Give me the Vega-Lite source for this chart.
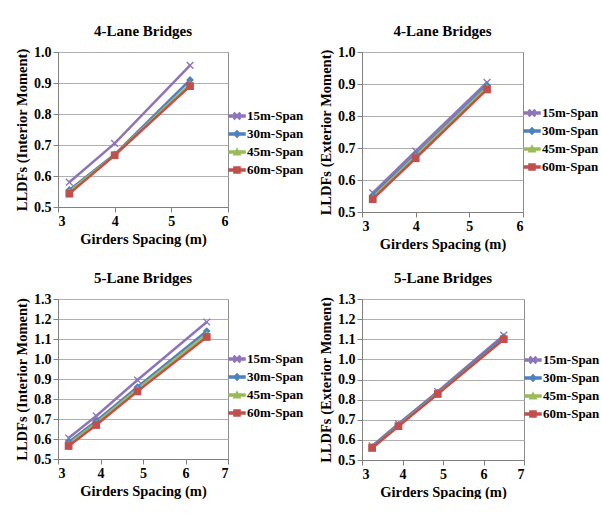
{
  "$schema": "https://vega.github.io/schema/vega-lite/v6.json",
  "padding": {"left": 13, "top": 23, "right": 5, "bottom": 0},
  "background": "white",
  "spacing": 19,
  "config": {
    "font": "Liberation Serif",
    "view": {"stroke": "#8c8c8c", "strokeWidth": 1},
    "axis": {
      "labelFont": "Liberation Serif", "labelFontWeight": "bold", "labelFontSize": 14, "labelColor": "#000",
      "titleFont": "Liberation Serif", "titleFontWeight": "bold", "titleFontSize": 14.5, "titleColor": "#000",
      "domainColor": "#808080", "tickColor": "#808080", "tickSize": 5,
      "gridColor": "#b0b0b0", "gridWidth": 1
    },
    "title": {"font": "Liberation Serif", "fontWeight": "bold", "fontSize": 15, "color": "#000", "offset": 6},
    "legend": {"labelFont": "Liberation Serif", "labelFontWeight": "bold", "labelFontSize": 13, "labelColor": "#000"}
  },
  "data": {"values": [
    {"panel": "A", "x": 3.2, "y": 0.58, "series": "15m-Span"},
    {"panel": "A", "x": 4.0, "y": 0.705, "series": "15m-Span"},
    {"panel": "A", "x": 5.33, "y": 0.957, "series": "15m-Span"},
    {"panel": "A", "x": 3.2, "y": 0.555, "series": "30m-Span"},
    {"panel": "A", "x": 4.0, "y": 0.67, "series": "30m-Span"},
    {"panel": "A", "x": 5.33, "y": 0.91, "series": "30m-Span"},
    {"panel": "A", "x": 3.2, "y": 0.55, "series": "45m-Span"},
    {"panel": "A", "x": 4.0, "y": 0.668, "series": "45m-Span"},
    {"panel": "A", "x": 5.33, "y": 0.897, "series": "45m-Span"},
    {"panel": "A", "x": 3.2, "y": 0.543, "series": "60m-Span"},
    {"panel": "A", "x": 4.0, "y": 0.667, "series": "60m-Span"},
    {"panel": "A", "x": 5.33, "y": 0.89, "series": "60m-Span"},

    {"panel": "B", "x": 3.2, "y": 0.56, "series": "15m-Span"},
    {"panel": "B", "x": 4.0, "y": 0.69, "series": "15m-Span"},
    {"panel": "B", "x": 5.33, "y": 0.905, "series": "15m-Span"},
    {"panel": "B", "x": 3.2, "y": 0.552, "series": "30m-Span"},
    {"panel": "B", "x": 4.0, "y": 0.68, "series": "30m-Span"},
    {"panel": "B", "x": 5.33, "y": 0.896, "series": "30m-Span"},
    {"panel": "B", "x": 3.2, "y": 0.546, "series": "45m-Span"},
    {"panel": "B", "x": 4.0, "y": 0.675, "series": "45m-Span"},
    {"panel": "B", "x": 5.33, "y": 0.89, "series": "45m-Span"},
    {"panel": "B", "x": 3.2, "y": 0.54, "series": "60m-Span"},
    {"panel": "B", "x": 4.0, "y": 0.668, "series": "60m-Span"},
    {"panel": "B", "x": 5.33, "y": 0.883, "series": "60m-Span"},

    {"panel": "C", "x": 3.25, "y": 0.605, "series": "15m-Span"},
    {"panel": "C", "x": 3.9, "y": 0.715, "series": "15m-Span"},
    {"panel": "C", "x": 4.87, "y": 0.895, "series": "15m-Span"},
    {"panel": "C", "x": 6.5, "y": 1.185, "series": "15m-Span"},
    {"panel": "C", "x": 3.25, "y": 0.585, "series": "30m-Span"},
    {"panel": "C", "x": 3.9, "y": 0.69, "series": "30m-Span"},
    {"panel": "C", "x": 4.87, "y": 0.86, "series": "30m-Span"},
    {"panel": "C", "x": 6.5, "y": 1.14, "series": "30m-Span"},
    {"panel": "C", "x": 3.25, "y": 0.575, "series": "45m-Span"},
    {"panel": "C", "x": 3.9, "y": 0.68, "series": "45m-Span"},
    {"panel": "C", "x": 4.87, "y": 0.85, "series": "45m-Span"},
    {"panel": "C", "x": 6.5, "y": 1.125, "series": "45m-Span"},
    {"panel": "C", "x": 3.25, "y": 0.565, "series": "60m-Span"},
    {"panel": "C", "x": 3.9, "y": 0.67, "series": "60m-Span"},
    {"panel": "C", "x": 4.87, "y": 0.838, "series": "60m-Span"},
    {"panel": "C", "x": 6.5, "y": 1.11, "series": "60m-Span"},

    {"panel": "D", "x": 3.25, "y": 0.57, "series": "15m-Span"},
    {"panel": "D", "x": 3.9, "y": 0.68, "series": "15m-Span"},
    {"panel": "D", "x": 4.87, "y": 0.84, "series": "15m-Span"},
    {"panel": "D", "x": 6.5, "y": 1.12, "series": "15m-Span"},
    {"panel": "D", "x": 3.25, "y": 0.565, "series": "30m-Span"},
    {"panel": "D", "x": 3.9, "y": 0.675, "series": "30m-Span"},
    {"panel": "D", "x": 4.87, "y": 0.835, "series": "30m-Span"},
    {"panel": "D", "x": 6.5, "y": 1.11, "series": "30m-Span"},
    {"panel": "D", "x": 3.25, "y": 0.56, "series": "45m-Span"},
    {"panel": "D", "x": 3.9, "y": 0.67, "series": "45m-Span"},
    {"panel": "D", "x": 4.87, "y": 0.83, "series": "45m-Span"},
    {"panel": "D", "x": 6.5, "y": 1.1, "series": "45m-Span"},
    {"panel": "D", "x": 3.25, "y": 0.56, "series": "60m-Span"},
    {"panel": "D", "x": 3.9, "y": 0.668, "series": "60m-Span"},
    {"panel": "D", "x": 4.87, "y": 0.828, "series": "60m-Span"},
    {"panel": "D", "x": 6.5, "y": 1.1, "series": "60m-Span"}
  ]},
  "vconcat": [
    {
      "spacing": 13,
      "resolve": {"scale": {"color": "independent", "shape": "independent"}, "legend": {"color": "independent", "shape": "independent"}},
      "hconcat": [
        {
          "width": 170, "height": 155,
          "title": "4-Lane Bridges",
          "transform": [{"filter": "datum.panel == 'A'"}],
          "encoding": {
            "x": {"field": "x", "type": "quantitative", "title": "Girders Spacing (m)", "scale": {"domain": [3, 6], "nice": false, "zero": false}, "axis": {"values": [3, 4, 5, 6], "grid": false, "format": "d"}},
            "y": {"field": "y", "type": "quantitative", "title": "LLDFs (Interior Moment)", "scale": {"domain": [0.5, 1.0], "nice": false, "zero": false}, "axis": {"values": [0.5, 0.6, 0.7, 0.8, 0.9, 1.0], "format": ".1f"}},
            "color": {"field": "series", "type": "nominal", "scale": {"range": ["#8E74B8", "#4F81BD", "#9BBB59", "#C0504D"]},
              "legend": {"title": null, "orient": "none", "legendX": 170, "legendY": 55, "padding": 0, "rowPadding": 2, "symbolSize": 256, "labelOffset": 1,
                "encode": {"symbols": {"update": {
                  "shape": {"signal": "datum.value == '15m-Span' ? 'M-1,-0.13H1V0.13H-1Z M-0.4,-0.3L-0.3,-0.4L0,-0.1L0.3,-0.4L0.4,-0.3L0.1,0L0.4,0.3L0.3,0.4L0,0.1L-0.3,0.4L-0.4,0.3L-0.1,0Z' : datum.value == '30m-Span' ? 'M-1,-0.13H1V0.13H-1Z M0,-0.4L0.4,0L0,0.4L-0.4,0Z' : datum.value == '45m-Span' ? 'M-1,-0.13H1V0.13H-1Z M0,-0.4L0.4,0.35H-0.4Z' : 'M-1,-0.13H1V0.13H-1Z M-0.38,-0.38H0.38V0.38H-0.38Z'"},
                  "fill": {"signal": "datum.value == '15m-Span' ? '#8E74B8' : datum.value == '30m-Span' ? '#4F81BD' : datum.value == '45m-Span' ? '#9BBB59' : '#C0504D'"},
                  "stroke": {"value": "transparent"},
                  "opacity": {"value": 1}
                }}}}}
          },
          "layer": [
            {"mark": {"type": "line", "strokeWidth": 2.5}},
            {"mark": {"type": "point", "filled": true, "opacity": 1, "size": 60},
             "encoding": {"shape": {"field": "series", "type": "nominal", "legend": null, "scale": {"range": ["M-1,-0.75L-0.75,-1L0,-0.25L0.75,-1L1,-0.75L0.25,0L1,0.75L0.75,1L0,0.25L-0.75,1L-1,0.75L-0.25,0Z", "diamond", "triangle-up", "square"]}}}}
          ]
        },
        {
          "width": 161, "height": 160,
          "title": "4-Lane Bridges",
          "transform": [{"filter": "datum.panel == 'B'"}],
          "encoding": {
            "x": {"field": "x", "type": "quantitative", "title": "Girders Spacing (m)", "scale": {"domain": [3, 6], "nice": false, "zero": false}, "axis": {"values": [3, 4, 5, 6], "grid": false, "format": "d"}},
            "y": {"field": "y", "type": "quantitative", "title": "LLDFs (Exterior Moment)", "scale": {"domain": [0.5, 1.0], "nice": false, "zero": false}, "axis": {"values": [0.5, 0.6, 0.7, 0.8, 0.9, 1.0], "format": ".1f"}},
            "color": {"field": "series", "type": "nominal", "scale": {"range": ["#8E74B8", "#4F81BD", "#9BBB59", "#C0504D"]},
              "legend": {"title": null, "orient": "none", "legendX": 161, "legendY": 52, "padding": 0, "rowPadding": 2, "symbolSize": 256, "labelOffset": 1,
                "encode": {"symbols": {"update": {
                  "shape": {"signal": "datum.value == '15m-Span' ? 'M-1,-0.13H1V0.13H-1Z M-0.4,-0.3L-0.3,-0.4L0,-0.1L0.3,-0.4L0.4,-0.3L0.1,0L0.4,0.3L0.3,0.4L0,0.1L-0.3,0.4L-0.4,0.3L-0.1,0Z' : datum.value == '30m-Span' ? 'M-1,-0.13H1V0.13H-1Z M0,-0.4L0.4,0L0,0.4L-0.4,0Z' : datum.value == '45m-Span' ? 'M-1,-0.13H1V0.13H-1Z M0,-0.4L0.4,0.35H-0.4Z' : 'M-1,-0.13H1V0.13H-1Z M-0.38,-0.38H0.38V0.38H-0.38Z'"},
                  "fill": {"signal": "datum.value == '15m-Span' ? '#8E74B8' : datum.value == '30m-Span' ? '#4F81BD' : datum.value == '45m-Span' ? '#9BBB59' : '#C0504D'"},
                  "stroke": {"value": "transparent"},
                  "opacity": {"value": 1}
                }}}}}
          },
          "layer": [
            {"mark": {"type": "line", "strokeWidth": 2.5}},
            {"mark": {"type": "point", "filled": true, "opacity": 1, "size": 60},
             "encoding": {"shape": {"field": "series", "type": "nominal", "legend": null, "scale": {"range": ["M-1,-0.75L-0.75,-1L0,-0.25L0.75,-1L1,-0.75L0.25,0L1,0.75L0.75,1L0,0.25L-0.75,1L-1,0.75L-0.25,0Z", "diamond", "triangle-up", "square"]}}}}
          ]
        }
      ]
    },
    {
      "spacing": 13,
      "resolve": {"scale": {"color": "independent", "shape": "independent"}, "legend": {"color": "independent", "shape": "independent"}},
      "hconcat": [
        {
          "width": 170, "height": 160,
          "title": "5-Lane Bridges",
          "transform": [{"filter": "datum.panel == 'C'"}],
          "encoding": {
            "x": {"field": "x", "type": "quantitative", "title": "Girders Spacing (m)", "scale": {"domain": [3, 7], "nice": false, "zero": false}, "axis": {"values": [3, 4, 5, 6, 7], "grid": false, "format": "d"}},
            "y": {"field": "y", "type": "quantitative", "title": "LLDFs (Interior Moment)", "scale": {"domain": [0.5, 1.3], "nice": false, "zero": false}, "axis": {"values": [0.5, 0.6, 0.7, 0.8, 0.9, 1.0, 1.1, 1.2, 1.3], "format": ".1f"}},
            "color": {"field": "series", "type": "nominal", "scale": {"range": ["#8E74B8", "#4F81BD", "#9BBB59", "#C0504D"]},
              "legend": {"title": null, "orient": "none", "legendX": 170, "legendY": 51, "padding": 0, "rowPadding": 2, "symbolSize": 256, "labelOffset": 1,
                "encode": {"symbols": {"update": {
                  "shape": {"signal": "datum.value == '15m-Span' ? 'M-1,-0.13H1V0.13H-1Z M-0.4,-0.3L-0.3,-0.4L0,-0.1L0.3,-0.4L0.4,-0.3L0.1,0L0.4,0.3L0.3,0.4L0,0.1L-0.3,0.4L-0.4,0.3L-0.1,0Z' : datum.value == '30m-Span' ? 'M-1,-0.13H1V0.13H-1Z M0,-0.4L0.4,0L0,0.4L-0.4,0Z' : datum.value == '45m-Span' ? 'M-1,-0.13H1V0.13H-1Z M0,-0.4L0.4,0.35H-0.4Z' : 'M-1,-0.13H1V0.13H-1Z M-0.38,-0.38H0.38V0.38H-0.38Z'"},
                  "fill": {"signal": "datum.value == '15m-Span' ? '#8E74B8' : datum.value == '30m-Span' ? '#4F81BD' : datum.value == '45m-Span' ? '#9BBB59' : '#C0504D'"},
                  "stroke": {"value": "transparent"},
                  "opacity": {"value": 1}
                }}}}}
          },
          "layer": [
            {"mark": {"type": "line", "strokeWidth": 2.5}},
            {"mark": {"type": "point", "filled": true, "opacity": 1, "size": 60},
             "encoding": {"shape": {"field": "series", "type": "nominal", "legend": null, "scale": {"range": ["M-1,-0.75L-0.75,-1L0,-0.25L0.75,-1L1,-0.75L0.25,0L1,0.75L0.75,1L0,0.25L-0.75,1L-1,0.75L-0.25,0Z", "diamond", "triangle-up", "square"]}}}}
          ]
        },
        {
          "width": 162, "height": 161,
          "title": "5-Lane Bridges",
          "transform": [{"filter": "datum.panel == 'D'"}],
          "encoding": {
            "x": {"field": "x", "type": "quantitative", "title": "Girders Spacing (m)", "scale": {"domain": [3, 7], "nice": false, "zero": false}, "axis": {"values": [3, 4, 5, 6, 7], "grid": false, "format": "d"}},
            "y": {"field": "y", "type": "quantitative", "title": "LLDFs (Exterior Moment)", "scale": {"domain": [0.5, 1.3], "nice": false, "zero": false}, "axis": {"values": [0.5, 0.6, 0.7, 0.8, 0.9, 1.0, 1.1, 1.2, 1.3], "format": ".1f"}},
            "color": {"field": "series", "type": "nominal", "scale": {"range": ["#8E74B8", "#4F81BD", "#9BBB59", "#C0504D"]},
              "legend": {"title": null, "orient": "none", "legendX": 162, "legendY": 52, "padding": 0, "rowPadding": 2, "symbolSize": 256, "labelOffset": 1,
                "encode": {"symbols": {"update": {
                  "shape": {"signal": "datum.value == '15m-Span' ? 'M-1,-0.13H1V0.13H-1Z M-0.4,-0.3L-0.3,-0.4L0,-0.1L0.3,-0.4L0.4,-0.3L0.1,0L0.4,0.3L0.3,0.4L0,0.1L-0.3,0.4L-0.4,0.3L-0.1,0Z' : datum.value == '30m-Span' ? 'M-1,-0.13H1V0.13H-1Z M0,-0.4L0.4,0L0,0.4L-0.4,0Z' : datum.value == '45m-Span' ? 'M-1,-0.13H1V0.13H-1Z M0,-0.4L0.4,0.35H-0.4Z' : 'M-1,-0.13H1V0.13H-1Z M-0.38,-0.38H0.38V0.38H-0.38Z'"},
                  "fill": {"signal": "datum.value == '15m-Span' ? '#8E74B8' : datum.value == '30m-Span' ? '#4F81BD' : datum.value == '45m-Span' ? '#9BBB59' : '#C0504D'"},
                  "stroke": {"value": "transparent"},
                  "opacity": {"value": 1}
                }}}}}
          },
          "layer": [
            {"mark": {"type": "line", "strokeWidth": 2.5}},
            {"mark": {"type": "point", "filled": true, "opacity": 1, "size": 60},
             "encoding": {"shape": {"field": "series", "type": "nominal", "legend": null, "scale": {"range": ["M-1,-0.75L-0.75,-1L0,-0.25L0.75,-1L1,-0.75L0.25,0L1,0.75L0.75,1L0,0.25L-0.75,1L-1,0.75L-0.25,0Z", "diamond", "triangle-up", "square"]}}}}
          ]
        }
      ]
    }
  ]
}
